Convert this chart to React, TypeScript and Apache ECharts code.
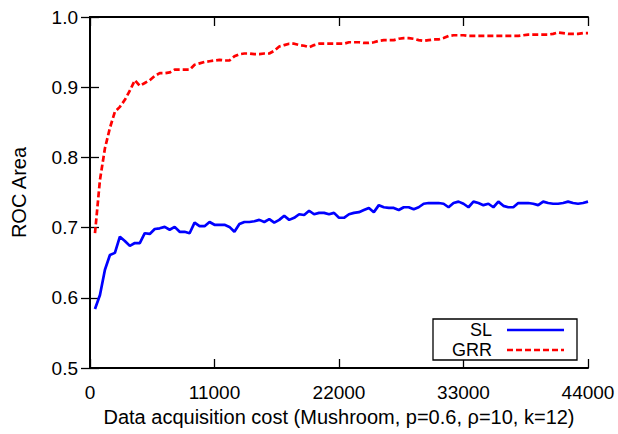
import React, { useEffect, useRef } from "react";
import * as echarts from "echarts";

const COST_STEP = 440;
const X_TICKS = [0, 11000, 22000, 33000, 44000];
const Y_TICKS = [0.5, 0.6, 0.7, 0.8, 0.9, 1.0];

const SL = [
  0.584, 0.604, 0.640, 0.661, 0.664, 0.687, 0.681, 0.674, 0.678, 0.678,
  0.692, 0.691, 0.698, 0.699, 0.701, 0.697, 0.701, 0.694, 0.694, 0.692,
  0.707, 0.702, 0.702, 0.708, 0.704, 0.704, 0.704, 0.701, 0.694, 0.705,
  0.708, 0.708, 0.709, 0.711, 0.708, 0.712, 0.707, 0.711, 0.717, 0.711,
  0.714, 0.719, 0.718, 0.724, 0.719, 0.721, 0.721, 0.719, 0.721, 0.714,
  0.714, 0.719, 0.721, 0.722, 0.725, 0.728, 0.722, 0.732, 0.729, 0.728,
  0.728, 0.725, 0.729, 0.729, 0.726, 0.729, 0.734, 0.735, 0.735, 0.735,
  0.734, 0.729, 0.735, 0.737, 0.734, 0.729, 0.737, 0.735, 0.732, 0.734,
  0.729, 0.737, 0.731, 0.729, 0.729, 0.735, 0.735, 0.735, 0.734, 0.732,
  0.737, 0.735, 0.734, 0.734, 0.735, 0.737, 0.735, 0.734, 0.735, 0.737,
];

const GRR = [
  0.692, 0.768, 0.813, 0.842, 0.865, 0.872, 0.882, 0.895, 0.910, 0.902,
  0.906, 0.910, 0.916, 0.920, 0.920, 0.921, 0.925, 0.925, 0.925, 0.925,
  0.932, 0.934, 0.936, 0.937, 0.938, 0.939, 0.938, 0.938, 0.944, 0.947,
  0.948, 0.948, 0.947, 0.947, 0.948, 0.948, 0.952, 0.958, 0.960, 0.962,
  0.962, 0.960, 0.959, 0.957, 0.960, 0.962, 0.962, 0.962, 0.962, 0.962,
  0.962, 0.964, 0.964, 0.964, 0.963, 0.963, 0.964, 0.966, 0.967, 0.967,
  0.967, 0.969, 0.970, 0.970, 0.969, 0.967, 0.966, 0.967, 0.968, 0.968,
  0.970, 0.973, 0.974, 0.974, 0.974, 0.973, 0.973, 0.973, 0.973, 0.973,
  0.973, 0.973, 0.973, 0.973, 0.973, 0.973, 0.974, 0.975, 0.975, 0.975,
  0.975, 0.975, 0.976, 0.978, 0.977, 0.976, 0.976, 0.976, 0.977, 0.977,
];

const LEGEND_NAMES = ["SL", "GRR"];
const X_NAME = "Data acquisition cost (Mushroom, p=0.6, \u03c1=10, k=12)";
const Y_NAME = "ROC Area";

const FONT = "'Liberation Sans', Arial, Helvetica, sans-serif";

export default function App() {
  const ref = useRef<HTMLDivElement>(null);

  useEffect(() => {
    if (!ref.current) return;
    const chart = echarts.init(ref.current, null, { renderer: "svg" });
    const costs = SL.map((_, i) => (i + 1) * COST_STEP);
    const slData = costs.map((c, i) => [c, SL[i]]);
    const grrData = costs.map((c, i) => [c, GRR[i]]);
    const xMin = X_TICKS[0];
    const xMax = X_TICKS[X_TICKS.length - 1];
    const xInt = X_TICKS[1] - X_TICKS[0];
    const yMin = Y_TICKS[0];
    const yMax = Y_TICKS[Y_TICKS.length - 1];

    const lineStyleAxis = { color: "#000", width: 2 };
    const tickStyle = { color: "#000", width: 1.3 };

    chart.setOption({
      animation: false,
      backgroundColor: "#fff",
      grid: { left: 90, right: 30, top: 17, bottom: 66 },
      xAxis: [
        {
          type: "value",
          min: xMin,
          max: xMax,
          interval: xInt,
          position: "bottom",
          name: X_NAME,
          nameLocation: "middle",
          nameGap: 33,
          nameTextStyle: { color: "#000", fontSize: 20, fontFamily: FONT },
          axisLine: { show: true, lineStyle: lineStyleAxis },
          axisTick: { show: true, inside: true, length: 9, lineStyle: tickStyle },
          axisLabel: {
            color: "#000",
            fontSize: 19,
            fontFamily: FONT,
            margin: 15,
            formatter: (v: number) => String(v),
          },
          splitLine: { show: false },
        },
        {
          type: "value",
          min: xMin,
          max: xMax,
          interval: xInt,
          position: "top",
          axisLine: { show: true, lineStyle: lineStyleAxis },
          axisTick: { show: true, inside: true, length: 9, lineStyle: tickStyle },
          axisLabel: { show: false },
          splitLine: { show: false },
        },
      ],
      yAxis: [
        {
          type: "value",
          min: yMin,
          max: yMax,
          interval: 0.1,
          position: "left",
          name: Y_NAME,
          nameLocation: "middle",
          nameGap: 61,
          nameTextStyle: { color: "#000", fontSize: 20, fontFamily: FONT },
          axisLine: { show: true, lineStyle: lineStyleAxis },
          axisTick: { show: true, inside: true, length: 9, lineStyle: tickStyle },
          axisLabel: {
            color: "#000",
            fontSize: 19,
            fontFamily: FONT,
            margin: 12,
            formatter: (v: number) => v.toFixed(1),
          },
          splitLine: { show: false },
        },
        {
          type: "value",
          min: yMin,
          max: yMax,
          interval: 0.1,
          position: "right",
          axisLine: { show: true, lineStyle: lineStyleAxis },
          axisTick: { show: true, inside: true, length: 9, lineStyle: tickStyle },
          axisLabel: { show: false },
          splitLine: { show: false },
        },
      ],
      series: [
        {
          name: LEGEND_NAMES[0],
          type: "line",
          data: slData,
          showSymbol: false,
          symbol: "none",
          lineStyle: { color: "#0000ff", width: 2.7 },
          z: 3,
        },
        {
          name: LEGEND_NAMES[1],
          type: "line",
          data: grrData,
          showSymbol: false,
          symbol: "none",
          lineStyle: { color: "#ff0000", width: 2.7, type: [6, 3] },
          z: 3,
        },
      ],
      graphic: [
        {
          type: "rect",
          shape: { x: 433, y: 319, width: 144, height: 41 },
          style: { fill: "#fff", stroke: "#000", lineWidth: 1.3 },
          z: 10,
        },
        {
          type: "text",
          x: 492,
          y: 330,
          style: {
            text: LEGEND_NAMES[0],
            fontSize: 18,
            fontFamily: FONT,
            fill: "#000",
            align: "right",
            verticalAlign: "middle",
          },
          z: 11,
        },
        {
          type: "text",
          x: 492,
          y: 350,
          style: {
            text: LEGEND_NAMES[1],
            fontSize: 18,
            fontFamily: FONT,
            fill: "#000",
            align: "right",
            verticalAlign: "middle",
          },
          z: 11,
        },
        {
          type: "line",
          shape: { x1: 507, y1: 330, x2: 564, y2: 330 },
          style: { stroke: "#0000ff", lineWidth: 2.5 },
          z: 11,
        },
        {
          type: "line",
          shape: { x1: 507, y1: 350, x2: 564, y2: 350 },
          style: { stroke: "#ff0000", lineWidth: 2.5, lineDash: [6, 3] },
          z: 11,
        },
      ],
    });
    return () => chart.dispose();
  }, []);

  return (
    <div
      ref={ref}
      style={{ position: "fixed", left: 0, top: 0, width: 618, height: 434 }}
    />
  );
}
